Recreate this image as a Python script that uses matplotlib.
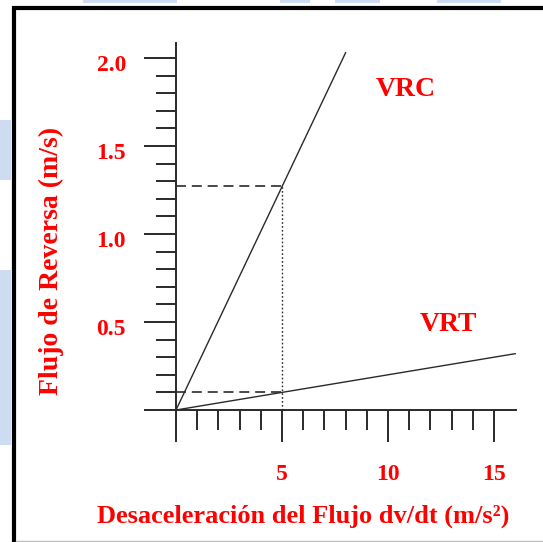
import matplotlib
matplotlib.use("Agg")
from matplotlib import pyplot as plt
from matplotlib.lines import Line2D
from matplotlib.patches import Rectangle
from matplotlib.ticker import FixedLocator
from matplotlib.transforms import ScaledTranslation

plt.rcParams["font.family"] = ["Liberation Serif", "DejaVu Serif"]
plt.rcParams["font.weight"] = "bold"

RED = "#ff0000"
INK = "#2a2a2a"

# lines from the origin: VRC (steep) and VRT (shallow)
vrc_x = [0, 8.0]
vrc_y = [0, 2.03]
vrt_x = [0, 16.0]
vrt_y = [0, 0.32]

# reading at dv/dt = 5
probe_x = 5.0
probe_vrc = 1.27
probe_vrt = 0.10

x_major = [0, 5, 10, 15]
x_minor = list(range(1, 16))
x_labels = ["", "5", "10", "15"]
y_major = [0, 0.5, 1.0, 1.5, 2.0]
y_minor = [i / 10 for i in range(1, 21)]
y_labels = ["", "0.5", "1.0", "1.5", "2.0"]

W, H = 543, 542
fig = plt.figure(figsize=(W / 100, H / 100), dpi=100)
fig.patch.set_facecolor("white")

# axes placed so the spines sit where the reference axes are
x0, x1, ytop, ybot = 176, 516, 43, 410
ax = fig.add_axes([x0 / W, 1 - ybot / H, (x1 - x0) / W, (ybot - ytop) / H])
ax.set_xlim(0, (x1 - x0) / 21.2)
ax.set_ylim(0, (ybot - ytop) / 176)
ax.patch.set_alpha(0)

for s in ("top", "right"):
    ax.spines[s].set_visible(False)
for s in ("left", "bottom"):
    ax.spines[s].set_color(INK)
    ax.spines[s].set_linewidth(1.4)

ax.xaxis.set_major_locator(FixedLocator(x_major))
ax.xaxis.set_minor_locator(FixedLocator(x_minor))
ax.yaxis.set_major_locator(FixedLocator(y_major))
ax.yaxis.set_minor_locator(FixedLocator(y_minor))
ax.set_xticklabels(x_labels)
ax.set_yticklabels(y_labels)

ax.tick_params(which="major", direction="out", length=23, width=1.4, color=INK)
ax.tick_params(which="minor", direction="out", length=14.5, width=1.4, color=INK)
ax.tick_params(axis="x", which="major", pad=16, labelsize=17, labelcolor=RED)
ax.tick_params(axis="y", which="major", pad=13, labelsize=17, labelcolor=RED)
for lab in ax.get_xticklabels() + ax.get_yticklabels():
    lab.set_fontweight("bold")
# y labels sit a little below their ticks in the original
shift = ScaledTranslation(0, -5 / 100, fig.dpi_scale_trans)
for lab in ax.get_yticklabels():
    lab.set_transform(lab.get_transform() + shift)

ax.plot(vrc_x, vrc_y, color=INK, lw=1.0, clip_on=False)
ax.plot(vrt_x, vrt_y, color=INK, lw=1.0, clip_on=False)

dash = (0, (6, 3.5))
ax.plot([0, probe_x], [probe_vrc, probe_vrc], color=INK, lw=1.2, linestyle=dash)
ax.plot([0, probe_x], [probe_vrt, probe_vrt], color=INK, lw=1.2, linestyle=dash)
ax.plot([probe_x, probe_x], [0, probe_vrc], color=INK, lw=1.0, linestyle=(0, (1.2, 1.6)))

ax.text(10.85, 1.82, "VRC", color=RED, fontsize=20, fontweight="bold",
        ha="center", va="center")
ax.text(12.83, 0.483, "VRT", color=RED, fontsize=20, fontweight="bold",
        ha="center", va="center")

fig.text(303 / W, 1 - 516 / H, "Desaceleración del Flujo dv/dt (m/s²)",
         color=RED, fontsize=19, fontweight="bold", ha="center", va="center")
fig.text(51 / W, 1 - 261 / H, "Flujo de Reversa (m/s)", color=RED,
         fontsize=20, fontweight="bold", ha="center", va="center", rotation=90)

# slide frame around the chart
fig.add_artist(Line2D([14 / W, 14 / W, 1], [0, 1 - 8 / H, 1 - 8 / H],
                      color="black", lw=3, solid_joinstyle="miter"))
fig.add_artist(Line2D([16 / W, 1], [1.5 / H, 1.5 / H], color="#bbbbbb", lw=1))
for (rx, ry, rw, rh) in [(0, 120, 11, 60), (0, 270, 11, 175), (83, 0, 94, 3),
                         (280, 0, 30, 3), (335, 0, 45, 3), (437, 0, 64, 3)]:
    fig.add_artist(Rectangle((rx / W, 1 - (ry + rh) / H), rw / W, rh / H,
                             transform=fig.transFigure, color="#cddcf0", lw=0))

fig.savefig("out.png", dpi=100)
